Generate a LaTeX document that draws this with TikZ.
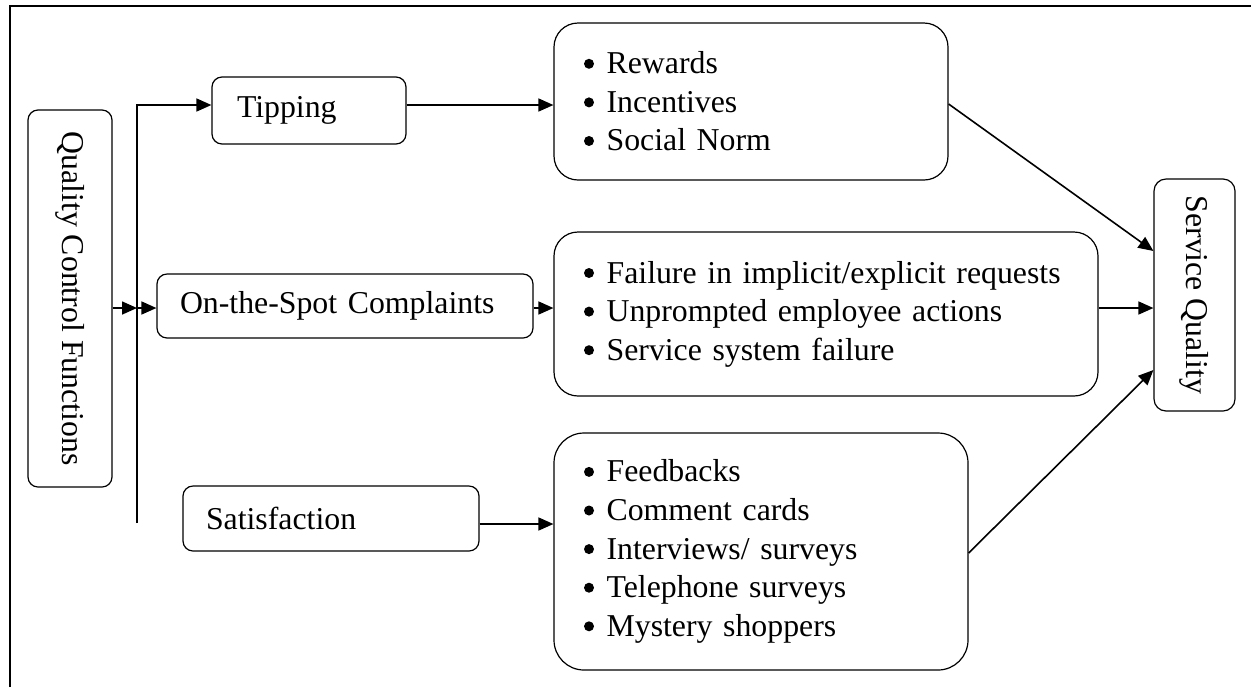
\documentclass[tikz,border=0pt]{standalone}
\usepackage{fontspec}
\setmainfont{Liberation Serif}
\usetikzlibrary{arrows.meta,calc}
\newcommand{\bul}{\tikz[baseline={(0,-5pt)},x=1pt,y=1pt]\fill (0,0) circle (2.5pt);\hspace{6.3pt}}
\begin{document}
\begin{tikzpicture}[x=0.5pt,y=-0.5pt,
  every node/.style={font=\fontsize{15.9pt}{19.3pt}\selectfont},
  box/.style={draw, line width=0.6pt, rounded corners=5pt, inner ysep=0pt},
  lbox/.style={box, align=left, inner xsep=12pt},
  bigbox/.style={draw, line width=0.6pt, rounded corners=12pt, align=left, inner xsep=15pt, inner ysep=0pt},
  arr/.style={line width=0.8pt, -{Triangle[length=7.5pt,width=6.5pt]}},
  frame/.style={line width=0.9pt}]
\useasboundingbox (0,0) rectangle (1251,687);
\draw[frame] (10,687) -- (10,6) -- (1251,6);

\node[box, rotate=-90, minimum width=188.5pt, minimum height=42pt] (qcf) at (70,298.5) {Quality Control Functions};
\node[box, rotate=-90, rounded corners=6pt, minimum width=116pt, minimum height=40.5pt] (sq) at (1194.5,295) {Service Quality};

\node[lbox, inner xsep=12.5pt, text width=72pt, minimum height=33.5pt] (tip) at (309,110.5) {Tipping};
\node[lbox, inner xsep=11.5pt, text width=165pt, minimum height=32pt] (ots) at (345,306) {On-the-Spot Complaints};
\node[lbox, inner xsep=11.5pt, text width=125pt, minimum height=32.5pt] (sat) at (331,518.5) {Satisfaction};

\node[bigbox, text width=167pt, minimum height=78.5pt] (rew) at (751,101.5)
  {\bul Rewards\\ \bul Incentives\\ \bul Social Norm};
\node[bigbox, text width=242pt, minimum height=82pt] (fail) at (826,314)
  {\bul Failure in implicit/explicit requests\\ \bul Unprompted employee actions\\ \bul Service system failure};
\node[bigbox, rounded corners=15pt, text width=177pt, minimum height=118.5pt] (fb) at (761,551.5)
  {\bul Feedbacks\\ \bul Comment cards\\ \bul Interviews/ surveys\\ \bul Telephone surveys\\ \bul Mystery shoppers};

\coordinate (vtop) at (137,105);
\coordinate (vmid) at (137,308);
\coordinate (vbot) at (137,523);

\draw[arr] (vbot) -- (vtop) -- (vtop -| tip.west);
\draw[arr] (qcf.north |- vmid) -- (vmid);
\draw[arr] (vmid) -- (vmid -| ots.west);

\coordinate (t1) at ($(tip.east)+(0,-5.5)$);
\draw[arr] (t1) -- (t1 -| rew.west);
\coordinate (o1) at ($(ots.east)+(0,2)$);
\draw[arr] (o1) -- (o1 -| fail.west);
\coordinate (s1) at ($(sat.east)+(0,5.5)$);
\draw[arr] (s1) -- (s1 -| fb.west);

\draw[arr] ($(rew.east)+(0,2.5)$) -- ($(sq.south)+(0,-44)$);
\coordinate (f1) at ($(fail.east)+(0,-6)$);
\draw[arr] (f1) -- (f1 -| sq.south);
\draw[arr] ($(fb.east)+(0,1.5)$) -- ($(sq.south)+(0,75)$);
\end{tikzpicture}
\end{document}
